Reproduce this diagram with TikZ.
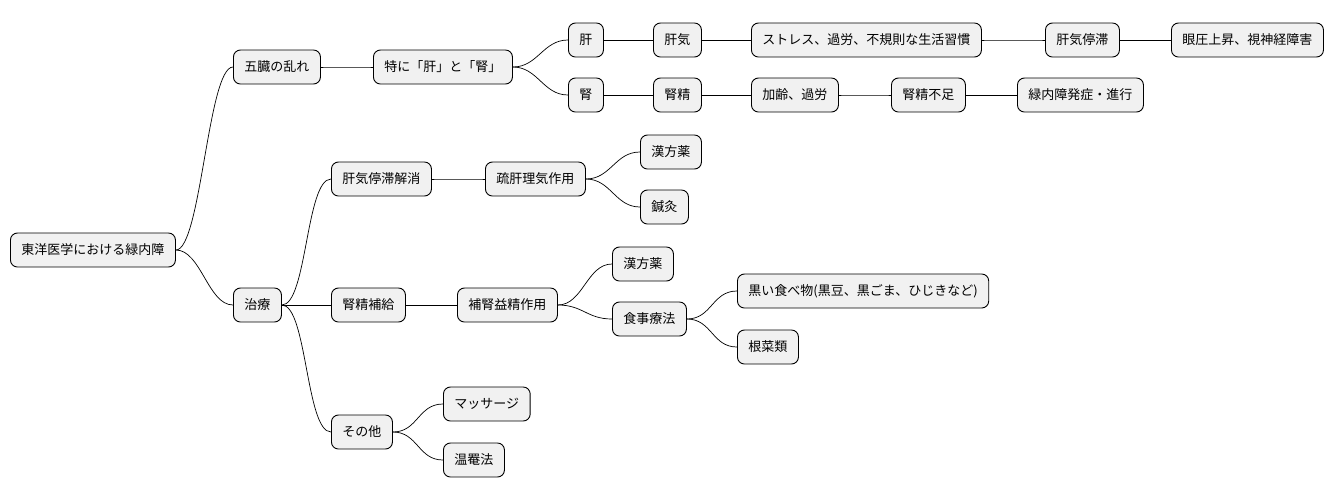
\documentclass[tikz,border=0pt]{standalone}
\usepackage{fontspec}
\setmainfont{Noto Sans CJK JP}
\begin{document}
\begin{tikzpicture}[x=1pt,y=-1pt,
  n/.style={draw=black,line width=0.9pt,fill={rgb,255:red,241;green,241;blue,241},rounded corners=7pt,anchor=west,minimum height=34pt,inner xsep=11pt,font=\fontsize{13}{15}\selectfont},
  e/.style={line width=0.7pt}]
\useasboundingbox (0,0) rectangle (1342,499);
\node[n] (r) at (10,250) {東洋医学における緑内障};
\node[n] (g) at (233,67) {五臓の乱れ};
\node[n] (t) at (373,67) {特に「肝」と「腎」};
\node[n] (k1) at (568,40) {肝};
\node[n] (k2) at (653,40) {肝気};
\node[n] (k3) at (751,40) {ストレス、過労、不規則な生活習慣};
\node[n] (k4) at (1045,40) {肝気停滞};
\node[n] (k5) at (1171,40) {眼圧上昇、視神経障害};
\node[n] (j1) at (568,95) {腎};
\node[n] (j2) at (653,95) {腎精};
\node[n] (j3) at (751,95) {加齢、過労};
\node[n] (j4) at (891,95) {腎精不足};
\node[n] (j5) at (1017,95) {緑内障発症・進行};
\node[n] (c) at (233,305) {治療};
\node[n] (a1) at (331,179) {肝気停滞解消};
\node[n] (a2) at (485,179) {疏肝理気作用};
\node[n] (a3) at (640,152) {漢方薬};
\node[n] (a4) at (640,207) {鍼灸};
\node[n] (b1) at (331,305) {腎精補給};
\node[n] (b2) at (457,305) {補腎益精作用};
\node[n] (b3) at (612,264) {漢方薬};
\node[n] (b4) at (612,319) {食事療法};
\node[n] (b5) at (737,291) {黒い食べ物(黒豆、黒ごま、ひじきなど)};
\node[n] (b6) at (737,347) {根菜類};
\node[n] (s1) at (331,432) {その他};
\node[n] (s2) at (443,404) {マッサージ};
\node[n] (s3) at (443,460) {温罨法};
\foreach \p/\c in {r/g,r/c,g/t,t/k1,t/j1,k1/k2,k2/k3,k3/k4,k4/k5,j1/j2,j2/j3,j3/j4,j4/j5,
  c/a1,c/b1,c/s1,a1/a2,a2/a3,a2/a4,b1/b2,b2/b3,b2/b4,b4/b5,b4/b6,s1/s2,s1/s3}
  \draw[e] (\p.east) .. controls +(25,0) and +(-25,0) .. (\c.west);
\end{tikzpicture}
\end{document}
